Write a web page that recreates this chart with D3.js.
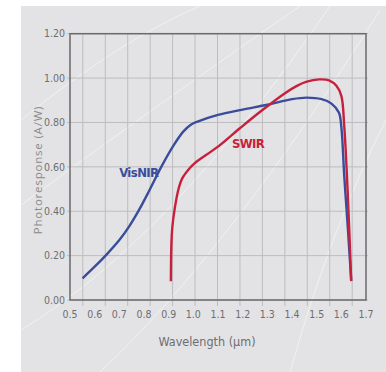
<!DOCTYPE html>
<html>
<head>
<meta charset="utf-8">
<script src="https://cdn.jsdelivr.net/npm/d3@7"></script>
<style>
  body { margin: 0; background: #fff; }
  svg { display: block; }
</style>
</head>
<body>
<svg width="386" height="372"></svg>
<script>
// chart data
const xTickLabels = [0.5, 0.6, 0.7, 0.8, 0.9, 1.0, 1.1, 1.2, 1.3, 1.4, 1.5, 1.6, 1.7];
const yTickLabels = [0, 0.2, 0.4, 0.6, 0.8, 1.0, 1.2];

const visnirWl = [0.551, 0.60, 0.65, 0.70, 0.74, 0.78, 0.82, 0.87, 0.92, 0.96, 0.99, 1.02, 1.10, 1.20, 1.30, 1.40, 1.46, 1.52, 1.56, 1.59, 1.60, 1.612, 1.626, 1.64];
const visnirResp = [0.098, 0.15, 0.207, 0.27, 0.332, 0.406, 0.49, 0.60, 0.697, 0.76, 0.79, 0.805, 0.834, 0.858, 0.88, 0.905, 0.912, 0.905, 0.885, 0.845, 0.78, 0.556, 0.33, 0.088];

const swirWl = [0.909, 0.911, 0.915, 0.925, 0.94, 0.955, 0.985, 1.006, 1.10, 1.19, 1.28, 1.37, 1.42, 1.46, 1.51, 1.55, 1.58, 1.60, 1.612, 1.626, 1.64];
const swirResp = [0.085, 0.25, 0.33, 0.415, 0.5, 0.548, 0.594, 0.617, 0.691, 0.775, 0.856, 0.931, 0.965, 0.984, 0.994, 0.99, 0.965, 0.92, 0.78, 0.48, 0.085];

const svg = d3.select("svg");
const labelFont = "'DejaVu Sans Condensed', 'DejaVu Sans', sans-serif";

// plot frame
const frame = { left: 70, right: 366, top: 33.7, bottom: 300 };

const x = d3.scaleLinear().domain([0.5, 1.7]).range([frame.left, frame.right]);
const y = d3.scaleLinear().domain([0, 1.2]).range([frame.bottom, frame.top]);
// vertical grid in the original sits slightly inside the labelled range
const gridX = d3.scaleLinear().domain([0.5, 1.7]).range([x(0.552), x(1.644)]);

function drawBackground() {
  svg.append("rect").attr("x", 21).attr("y", 6).attr("width", 365).attr("height", 366).attr("fill", "#e3e3e5");
  // faint white decorative sweeps
  const arcs = [
    "M21,120 Q120,40 200,6",
    "M21,205 Q150,110 300,6",
    "M21,330 Q170,240 330,6",
    "M100,372 Q230,250 380,10",
    "M290,372 Q330,230 386,120"
  ];
  svg.append("g").selectAll("path").data(arcs).enter().append("path")
    .attr("d", d => d).attr("fill", "none")
    .attr("stroke", "#ffffff").attr("stroke-opacity", 0.5).attr("stroke-width", 1);
}

function drawAxes() {
  const g = svg.append("g");

  // horizontal grid + left ticks
  g.selectAll(".hgrid").data(yTickLabels).enter().append("line")
    .attr("x1", frame.left - 3).attr("x2", frame.right + 2)
    .attr("y1", d => y(d)).attr("y2", d => y(d))
    .attr("stroke", "#bdbdbf").attr("stroke-width", 1);

  // vertical grid + bottom ticks
  g.selectAll(".vgrid").data(xTickLabels).enter().append("line")
    .attr("x1", d => gridX(d)).attr("x2", d => gridX(d))
    .attr("y1", frame.top).attr("y2", frame.bottom + 6)
    .attr("stroke", "#bdbdbf").attr("stroke-width", 1);

  // frame
  g.append("rect")
    .attr("x", frame.left).attr("y", frame.top)
    .attr("width", frame.right - frame.left).attr("height", frame.bottom - frame.top)
    .attr("fill", "none").attr("stroke", "#6a6a6d").attr("stroke-width", 1.5);

  // tick labels
  g.selectAll(".ylab").data(yTickLabels).enter().append("text")
    .attr("x", frame.left - 5).attr("y", d => y(d)).attr("dy", "0.35em")
    .attr("text-anchor", "end").attr("font-family", labelFont).attr("font-size", "10.5px")
    .attr("fill", "#6e6e70").text(d => d3.format(".2f")(d));

  g.selectAll(".xlab").data(xTickLabels).enter().append("text")
    .attr("x", d => x(d)).attr("y", 314).attr("dy", "0.35em")
    .attr("text-anchor", "middle").attr("font-family", labelFont).attr("font-size", "10.5px")
    .attr("fill", "#6e6e70").text(d => d3.format(".1f")(d));

  // axis titles
  g.append("text").attr("x", 207).attr("y", 342).attr("dy", "0.35em")
    .attr("text-anchor", "middle").attr("font-family", labelFont).attr("font-size", "12.5px")
    .attr("fill", "#6e6e70").text("Wavelength (µm)");

  g.append("text").attr("transform", "translate(38,170) rotate(-90)").attr("dy", "0.35em")
    .attr("text-anchor", "middle").attr("font-family", "'Open Sans', sans-serif").attr("font-size", "11.5px")
    .attr("letter-spacing", "0.8px").attr("fill", "#8a8a8c").text("Photoresponse (A/W)");
}

function drawCurves() {
  const line = d3.line().curve(d3.curveCatmullRom.alpha(0.5)).x(d => x(d[0])).y(d => y(d[1]));
  const series = [
    { name: "VisNIR", pts: d3.zip(visnirWl, visnirResp), color: "#3a4c9c", lx: 0.779, ly: 0.575 },
    { name: "SWIR", pts: d3.zip(swirWl, swirResp), color: "#c7203c", lx: 1.222, ly: 0.705 }
  ];
  const g = svg.append("g");
  g.selectAll("path").data(series).enter().append("path")
    .attr("d", d => line(d.pts)).attr("fill", "none")
    .attr("stroke", d => d.color).attr("stroke-width", 2.4);

  g.selectAll("text").data(series).enter().append("text")
    .attr("x", d => x(d.lx)).attr("y", d => y(d.ly)).attr("dy", "0.35em")
    .attr("text-anchor", "middle").attr("font-family", labelFont).attr("font-weight", "bold")
    .attr("font-size", "13px").attr("letter-spacing", "-0.6px")
    .attr("fill", d => d.color).text(d => d.name);
}

drawBackground();
drawAxes();
drawCurves();
</script>
</body>
</html>
